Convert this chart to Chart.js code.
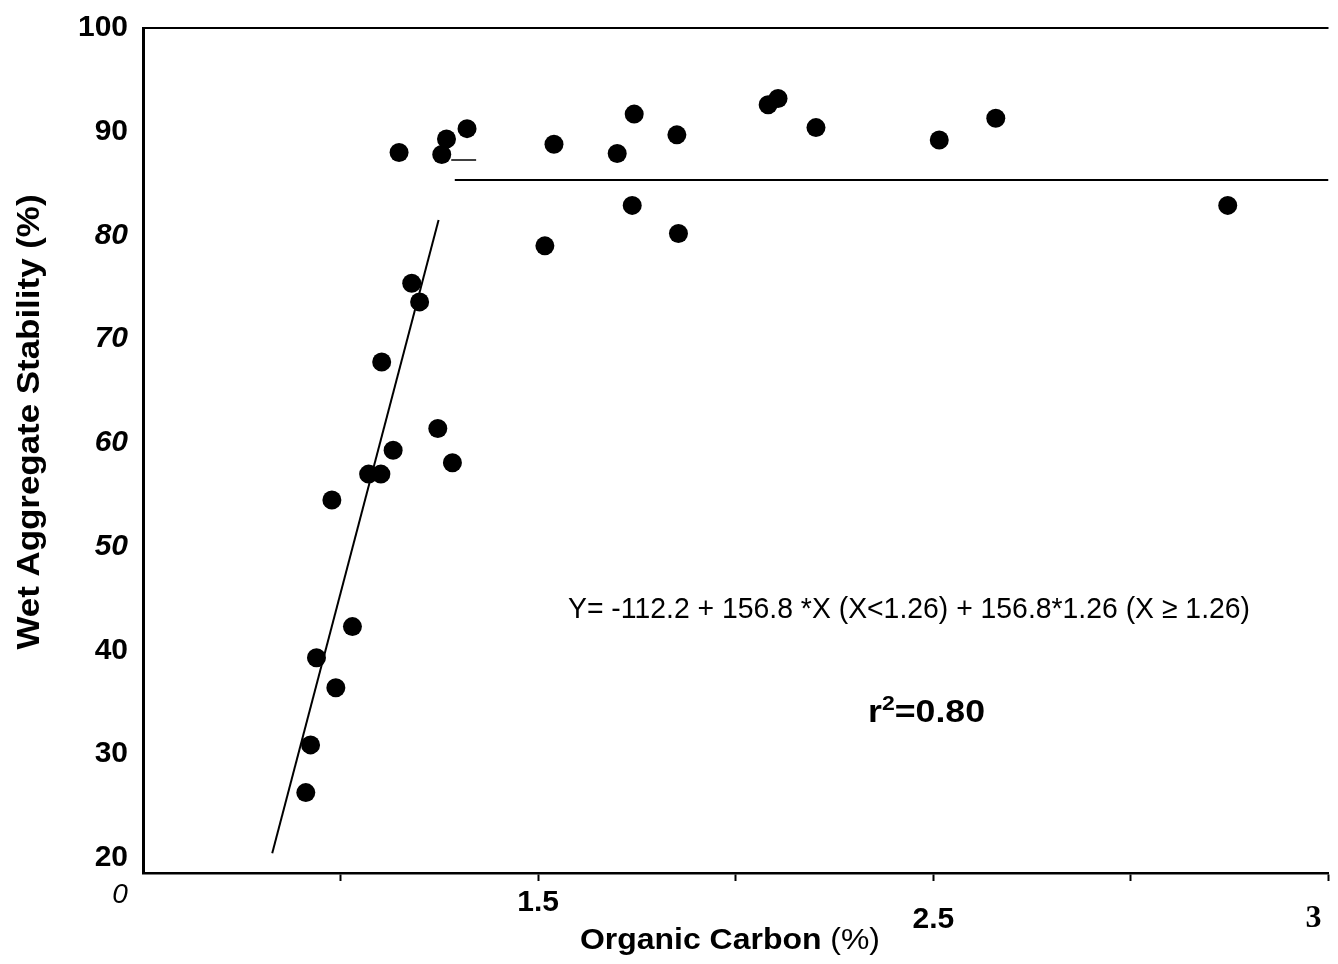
<!DOCTYPE html>
<html>
<head>
<meta charset="utf-8">
<script src="https://cdn.jsdelivr.net/npm/chart.js@4.4.1/dist/chart.umd.min.js"></script>
<style>
  body { margin: 0; background: #fff; }
  #wrap { width: 1338px; height: 964px; position: relative; }
</style>
</head>
<body>
<div id="wrap"><canvas id="myChart"></canvas></div>
<script>
// organic carbon (%) vs wet aggregate stability (%)
const organicCarbon = [0.912, 0.924, 0.939, 0.988, 0.978, 1.030, 1.071, 1.102, 1.104, 1.133,
  1.148, 1.180, 1.200, 1.246, 1.256, 1.268, 1.283, 1.320, 1.517, 1.540,
  1.700, 1.738, 1.743, 1.851, 1.855, 2.082, 2.107, 2.203, 2.515, 2.658, 3.245];
const wetStability = [26.3, 30.9, 39.3, 36.4, 54.5, 42.3, 57.0, 57.0, 67.8, 59.3,
  88.0, 75.4, 73.6, 61.4, 87.8, 89.3, 58.1, 90.3, 79.0, 88.8,
  87.9, 82.9, 91.7, 89.7, 80.2, 92.6, 93.2, 90.4, 89.2, 91.3, 82.9];

// fitted segmented line (as drawn)
const slopeX = [0.827, 1.248];
const slopeY = [20.45, 81.49];
const plateauX = [1.289, 3.5];
const plateauY = [85.35, 85.35];
const stubX = [1.28, 1.343];
const stubY = [87.28, 87.28];

const yTicks = [20, 30, 40, 50, 60, 70, 80, 90, 100];
const italicYTicks = [50, 60, 70, 80];
const xTicks = [1, 1.5, 2, 2.5, 3, 3.5];
const xTickText = ['', '1.5', '', '2.5', '', ''];

const SANS = "'Liberation Sans', Arial, sans-serif";
const SERIF = "'Liberation Serif', 'Times New Roman', serif";

const toPoints = (xs, ys) => xs.map((x, i) => ({ x: x, y: ys[i] }));

// draws text squeezed/stretched to a given width
function fitText(ctx, text, font, cx, y, width) {
  ctx.font = font;
  const w = ctx.measureText(text).width;
  ctx.save();
  ctx.translate(cx, y);
  ctx.scale(width / w, 1);
  ctx.textAlign = 'center';
  ctx.fillText(text, 0, 0);
  ctx.restore();
}

const extras = {
  id: 'extras',
  afterDraw(chart) {
    const ctx = chart.ctx;
    const a = chart.chartArea;
    ctx.save();
    ctx.fillStyle = '#000';
    ctx.strokeStyle = '#000';

    // top frame line
    ctx.lineWidth = 2;
    ctx.beginPath();
    ctx.moveTo(a.left, a.top);
    ctx.lineTo(a.right, a.top);
    ctx.stroke();

    // corner "0" and the end label "3"
    ctx.font = 'italic 28px ' + SANS;
    ctx.textAlign = 'center';
    ctx.textBaseline = 'middle';
    ctx.fillText('0', a.left - 23, a.bottom + 22);
    ctx.font = 'bold 32px ' + SERIF;
    ctx.fillText('3', a.right - 15, a.bottom + 46);

    ctx.textBaseline = 'alphabetic';
    // equation
    fitText(ctx, 'Y= -112.2 + 156.8 *X (X<1.26) + 156.8*1.26 (X \u2265 1.26)',
      '30px ' + SANS, 909, 618, 682);

    // r^2
    const big = 'bold 31px ' + SANS, small = 'bold 20px ' + SANS;
    ctx.font = big; const w1 = ctx.measureText('r').width;
    ctx.font = small; const w2 = ctx.measureText('2').width;
    ctx.font = big; const w3 = ctx.measureText('=0.80').width;
    const k = 117 / (w1 + w2 + w3);
    ctx.save();
    ctx.translate(868, 722);
    ctx.scale(k, 1);
    ctx.textAlign = 'left';
    ctx.font = big; ctx.fillText('r', 0, 0);
    ctx.font = small; ctx.fillText('2', w1, -12);
    ctx.font = big; ctx.fillText('=0.80', w1 + w2, 0);
    ctx.restore();

    // x axis title, bold + regular
    const tb = 'bold 29px ' + SANS, tn = '29px ' + SANS;
    ctx.font = tb; const p1 = ctx.measureText('Organic Carbon ').width;
    ctx.font = tn; const p2 = ctx.measureText('(%)').width;
    const kx = 300 / (p1 + p2);
    ctx.save();
    ctx.translate(580, 949);
    ctx.scale(kx, 1);
    ctx.textAlign = 'left';
    ctx.font = tb; ctx.fillText('Organic Carbon ', 0, 0);
    ctx.font = tn; ctx.fillText('(%)', p1, 0);
    ctx.restore();

    // y axis title
    ctx.save();
    ctx.translate(30, 422);
    ctx.rotate(-Math.PI / 2);
    ctx.textBaseline = 'middle';
    fitText(ctx, 'Wet Aggregate Stability (%)', 'bold 32px ' + SANS, 0, 0, 455);
    ctx.restore();

    ctx.restore();
  }
};

const ctx = document.getElementById('myChart');

new Chart(ctx, {
  type: 'scatter',
  data: {
    datasets: [
      {
        label: 'Observed',
        data: toPoints(organicCarbon, wetStability),
        pointRadius: 9.5,
        pointHoverRadius: 9.5,
        backgroundColor: '#000',
        borderColor: '#000',
        borderWidth: 0,
      },
      {
        label: 'Fit (X<1.26)',
        data: toPoints(slopeX, slopeY),
        showLine: true,
        pointRadius: 0,
        borderColor: '#000',
        borderWidth: 2,
      },
      {
        label: 'Fit (X>=1.26)',
        data: toPoints(plateauX, plateauY),
        showLine: true,
        pointRadius: 0,
        borderColor: '#000',
        borderWidth: 2,
      },
      {
        label: 'mark',
        data: toPoints(stubX, stubY),
        showLine: true,
        pointRadius: 0,
        borderColor: '#000',
        borderWidth: 1.5,
      },
    ],
  },
  options: {
    responsive: true,
    maintainAspectRatio: false,
    animation: false,
    layout: { padding: { top: 28, left: 0, right: 8, bottom: 0 } },
    plugins: {
      legend: { display: false },
      tooltip: { enabled: false },
    },
    scales: {
      x: {
        type: 'linear',
        min: 0.5,
        max: 3.5,
        afterBuildTicks: (scale) => { scale.ticks = xTicks.map((v) => ({ value: v })); },
        afterFit: (scale) => { scale.height = 91; },
        border: { display: true, color: '#000', width: 2.5 },
        grid: {
          drawOnChartArea: false,
          drawTicks: true,
          tickLength: 8,
          color: '#000',
          tickWidth: 2,
        },
        ticks: {
          color: '#000',
          padding: 4,
          maxRotation: 0,
          autoSkip: false,
          callback: (value) => {
            const t = xTickText[xTicks.indexOf(value)] || '';
            if (value === 2.5) return ['', t];
            return t;
          },
          font: (c) => {
            const v = c.tick ? c.tick.value : 0;
            if (v === 2.5) return { family: SANS, size: 30, weight: 'bold', lineHeight: 0.78 };
            return { family: SANS, size: 30, weight: 'bold', lineHeight: 1.2 };
          },
        },
      },
      y: {
        type: 'linear',
        min: 18.55,
        max: 100,
        afterBuildTicks: (scale) => { scale.ticks = yTicks.map((v) => ({ value: v })); },
        afterFit: (scale) => { scale.width = 143; },
        border: { display: true, color: '#000', width: 3 },
        // invisible tick marks keep the labels away from the axis
        grid: {
          display: true,
          drawOnChartArea: false,
          drawTicks: true,
          tickLength: 12,
          color: 'rgba(0,0,0,0)',
        },
        ticks: {
          color: '#000',
          padding: 3,
          callback: (value) => String(value),
          font: (c) => ({
            family: SANS,
            size: 30,
            weight: 'bold',
            style: c.tick && italicYTicks.includes(c.tick.value) ? 'italic' : 'normal',
          }),
        },
      },
    },
  },
  plugins: [extras],
});
</script>
</body>
</html>
